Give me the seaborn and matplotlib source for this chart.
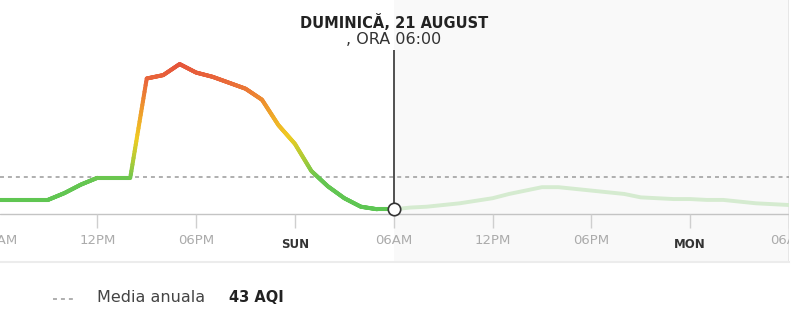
import numpy as np
import pandas as pd
import matplotlib
matplotlib.use("Agg")
import matplotlib.pyplot as plt
import matplotlib.transforms as mtransforms
import seaborn as sns
from matplotlib.collections import LineCollection
from matplotlib.colors import LinearSegmentedColormap, Normalize
from matplotlib.lines import Line2D

# ---- data -------------------------------------------------------------
# hours counted from Saturday 06:00
past_hours = list(range(0, 25))
past_aqi = [16, 16, 16, 16, 24, 34, 42, 42, 42, 159, 163, 176, 166,
            161, 154, 147, 134, 104, 82, 50, 32, 18, 8, 5, 5]

forecast_hours = list(range(24, 49))
forecast_aqi = [5, 7, 8, 10, 12, 15, 18, 23, 27, 31, 31, 29, 27, 25,
                23, 19, 18, 17, 17, 16, 16, 14, 12, 11, 10]

tick_hours = [0, 6, 12, 18, 24, 30, 36, 42, 48]
tick_labels = ["06AM", "12PM", "06PM", "SUN", "06AM", "12PM", "06PM", "MON", "06AM"]
day_labels = {"SUN", "MON"}

annual_mean = 43
selected_hour = 24
selected_aqi = past_aqi[past_hours.index(selected_hour)]
title_line1 = "DUMINICĂ, 21 AUGUST"
title_line2 = ", ORA 06:00"
legend_label = "Media anuala"
legend_value = f"{annual_mean} AQI"

past_df = pd.DataFrame({"hour": past_hours, "aqi": past_aqi})
forecast_df = pd.DataFrame({"hour": forecast_hours, "aqi": forecast_aqi})

# ---- style ------------------------------------------------------------
sns.set_theme(style="white")
plt.rcParams["font.family"] = ["DejaVu Sans"]

fig = plt.figure(figsize=(8, 3.33), dpi=100)
ax = fig.add_axes([0, 1 - 262 / 333, 789 / 800, 262 / 333])

px_per_aqi = 0.849
zero_px = 213.5
ax.set_xlim(1.5 / 16.47, 48)
ax.set_ylim(-(262 - zero_px) / px_per_aqi, zero_px / px_per_aqi)
for side in ["top", "left", "right"]:
    ax.spines[side].set_visible(False)
ax.spines["bottom"].set_color("#ececec")
ax.spines["bottom"].set_linewidth(1.5)
ax.set_xticks([])
ax.set_yticks([])
ax.set_xlabel("")
ax.set_ylabel("")

# forecast period background
ax.axvspan(selected_hour, 48, color="#f9f9f9", zorder=0, lw=0)
ax.axvline(48, color="#e4e4e4", lw=1.2, zorder=1)

# baseline and tick marks
ax.axhline(0, color="#c4c4c4", lw=1.0, zorder=2)
ax.vlines(tick_hours, -17, 0, color="#cfcfcf", lw=1.0, zorder=2)

# annual mean reference line
ax.axhline(annual_mean, color="#9a9a9a", lw=1.1, ls=(0, (2.6, 2.6)), zorder=2)

# forecast line (faded)
sns.lineplot(data=forecast_df, x="hour", y="aqi", ax=ax, color="#d5ebd0",
             lw=2.8, zorder=3, solid_capstyle="round", legend=False)

# measured line with AQI colour gradient
aqi_cmap = LinearSegmentedColormap.from_list(
    "aqi",
    [(0.0, "#5cc653"), (40 / 180, "#66c651"), (62 / 180, "#a9cb38"),
     (90 / 180, "#f0cb22"), (125 / 180, "#ee982d"), (158 / 180, "#e9663a"),
     (1.0, "#e4513a")])
norm = Normalize(0, 180)
segs, vals = [], []
for (x0, y0), (x1, y1) in zip(zip(past_hours[:-1], past_aqi[:-1]),
                              zip(past_hours[1:], past_aqi[1:])):
    t = np.linspace(0, 1, 31)
    xs = x0 + (x1 - x0) * t
    ys = y0 + (y1 - y0) * t
    for i in range(len(t) - 1):
        segs.append([(xs[i], ys[i]), (xs[i + 1], ys[i + 1])])
        vals.append((ys[i] + ys[i + 1]) / 2)
lc = LineCollection(segs, colors=aqi_cmap(norm(np.array(vals))), linewidths=2.9,
                    capstyle="round", joinstyle="round", zorder=4)
ax.add_collection(lc)

# selected hour cursor and marker
cursor_top = (zero_px - 50) / px_per_aqi
ax.vlines(selected_hour, selected_aqi, cursor_top, color="#333333", lw=1.2, zorder=5)
sns.scatterplot(x=[selected_hour], y=[selected_aqi], ax=ax, s=80, color="white",
                edgecolor="#333333", linewidth=1.2, zorder=6, legend=False)

# header text over the cursor
tr = mtransforms.blended_transform_factory(ax.transData, ax.transAxes)
ax.text(selected_hour, 1 - 22 / 262, title_line1, transform=tr, ha="center",
        va="center", fontsize=10.5, fontweight="bold", color="#222222")
ax.text(selected_hour, 1 - 40 / 262, title_line2, transform=tr, ha="center",
        va="center", fontsize=11.5, color="#333333")

# axis labels (clipped at the panel edges)
for h, lab in zip(tick_hours, tick_labels):
    if lab in day_labels:
        ax.text(h, (262 - 244) / 262, lab, transform=tr, ha="center", va="center",
                fontsize=8.5, fontweight="bold", color="#333333", clip_on=True)
    else:
        ax.text(h, (262 - 241) / 262, lab, transform=tr, ha="center", va="center",
                fontsize=9.5, color="#ababab", clip_on=True)

# legend row
fig.add_artist(Line2D([53 / 800, 75 / 800], [1 - 299 / 333] * 2,
                      transform=fig.transFigure, color="#9a9a9a", lw=1.1,
                      ls=(0, (2.6, 2.6))))
fig.text(97 / 800, 1 - 298 / 333, legend_label, ha="left", va="center",
         fontsize=11.5, color="#444444")
fig.text(229 / 800, 1 - 298 / 333, legend_value, ha="left", va="center",
         fontsize=10.5, fontweight="bold", color="#222222")

fig.savefig("out.png", dpi=100)
